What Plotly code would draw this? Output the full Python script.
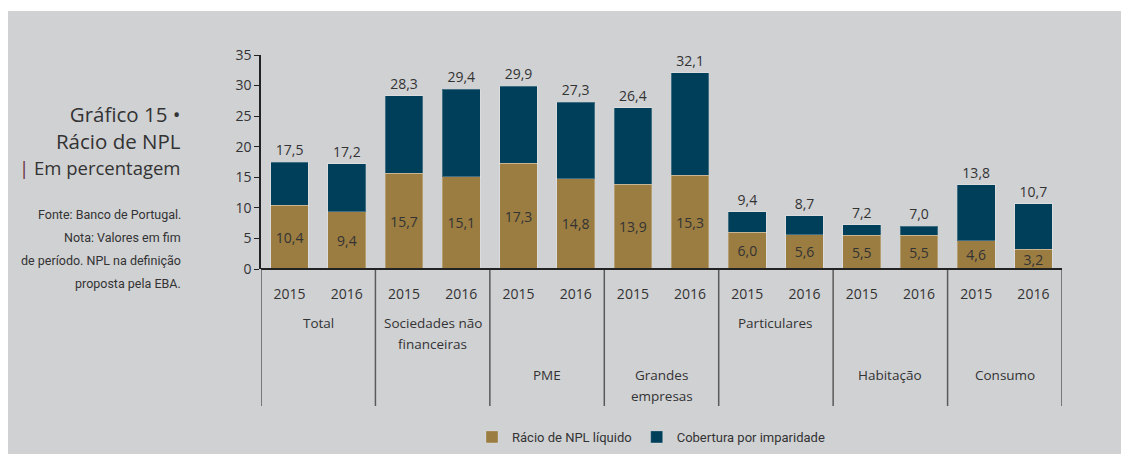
import plotly.graph_objects as go

# ---- data ----
categories = ["Total 2015", "Total 2016", "SNF 2015", "SNF 2016", "PME 2015", "PME 2016",
              "GE 2015", "GE 2016", "Part 2015", "Part 2016", "Hab 2015", "Hab 2016",
              "Cons 2015", "Cons 2016"]
year_labels = ["2015", "2016"] * 7
npl_liquido = [10.4, 9.4, 15.7, 15.1, 17.3, 14.8, 13.9, 15.3, 6.0, 5.6, 5.5, 5.5, 4.6, 3.2]
npl_total = [17.5, 17.2, 28.3, 29.4, 29.9, 27.3, 26.4, 32.1, 9.4, 8.7, 7.2, 7.0, 13.8, 10.7]
cobertura = [round(t - n, 1) for t, n in zip(npl_total, npl_liquido)]

group_lines = [["Total"], ["Sociedades não", "financeiras"], ["PME"], ["Grandes", "empresas"],
               ["Particulares"], ["Habitação"], ["Consumo"]]
group_rows = [1, 1, 2, 2, 1, 2, 2]

title_text = "Gráfico 15 •<br>Rácio de NPL<br><span style='font-size:18.5px'><span style='color:#6b2a3e'>|</span> Em percentagem</span>"
note_lines = ["Fonte: Banco de Portugal.", "Nota: Valores em fim",
              "de período. NPL na definição", "proposta pela EBA."]

y_ticks = [0, 5, 10, 15, 20, 25, 30, 35]

GOLD = "#9b7d42"
NAVY = "#003f5a"
BG = "#d0d1d3"
TXT = "#333333"
FONT = "Open Sans, DejaVu Sans, sans-serif"
NARROW = "Roboto, Liberation Sans, sans-serif"


def fmt(v):
    return f"{v:.1f}".replace(".", ",")


fig = go.Figure()
fig.add_trace(go.Bar(
    x=categories, y=npl_liquido, name="Rácio de NPL líquido",
    marker=dict(color=GOLD, line=dict(color="rgba(255,255,255,0.25)", width=1)),
    text=[fmt(v) for v in npl_liquido], textposition="inside", insidetextanchor="middle",
    constraintext="none",
    textfont=dict(family=FONT, size=14, color=TXT), textangle=0,
    hoverinfo="skip",
))
fig.add_trace(go.Bar(
    x=categories, y=cobertura, name="Cobertura por imparidade",
    marker=dict(color=NAVY, line=dict(color="rgba(255,255,255,0.25)", width=1)),
    text=[fmt(v) for v in npl_total], textposition="outside", constraintext="none",
    textfont=dict(family=FONT, size=14, color=TXT), textangle=0,
    cliponaxis=False, hoverinfo="skip",
))

# page has an 8px body margin: positions below are measured in page pixels
OFF = 8
W, H = 1121, 446
L = 261 - OFF
T = 55 - OFF
RIGHT_EDGE = 1062 - OFF
BOTTOM_EDGE = 269 - OFF
R = W - RIGHT_EDGE
B = H - BOTTOM_EDGE
pw, ph = W - L - R, H - T - B


def px_x(x):
    return (x - OFF - L) / pw


def px_y(y):
    return (BOTTOM_EDGE - (y - OFF)) / ph


shapes = []
# background panel
shapes.append(dict(type="rect", xref="paper", yref="paper",
                   x0=px_x(8), x1=px_x(1140), y0=px_y(11), y1=px_y(470),
                   fillcolor=BG, line=dict(width=0), layer="below"))
# group separators
bounds = [-0.5, 1.5, 3.5, 5.5, 7.5, 9.5, 11.5, 13.5]
for b in bounds:
    shapes.append(dict(type="line", xref="x", yref="paper", x0=b, x1=b,
                       y0=0, y1=px_y(406), line=dict(color="#5a5a5a", width=1.5)))
# baseline
shapes.append(dict(type="line", xref="paper", yref="paper", x0=0, x1=1, y0=0, y1=0,
                   line=dict(color="#222222", width=2)))

annotations = []
row_y = {1: 323, 2: 375}
for i, (lines, row) in enumerate(zip(group_lines, group_rows)):
    xc = 2 * i + 0.5
    for j, line in enumerate(lines):
        annotations.append(dict(text=line, x=xc, xref="x", y=px_y(row_y[row] + 21 * j),
                                yref="paper", showarrow=False, xanchor="center",
                                yanchor="middle", font=dict(family=FONT, size=13.5, color=TXT)))

annotations.append(dict(text=title_text, x=px_x(183), xref="paper", y=px_y(140), yref="paper",
                        showarrow=False, xanchor="right", yanchor="middle", align="right",
                        font=dict(family=FONT, size=20.5, color=TXT)))
for k, line in enumerate(note_lines):
    annotations.append(dict(text=line, x=px_x(183), xref="paper", y=px_y(214 + 23 * k),
                            yref="paper", showarrow=False, xanchor="right", yanchor="middle",
                            font=dict(family=NARROW, size=12.5, color=TXT)))

fig.update_layout(
    width=W, height=H,
    margin=dict(l=L, r=R, t=T, b=B, autoexpand=False),
    paper_bgcolor="white", plot_bgcolor="rgba(0,0,0,0)",
    barmode="stack", bargap=0.34,
    showlegend=True,
    legend=dict(orientation="h", x=px_x(472), y=px_y(437), xanchor="left", yanchor="middle",
                font=dict(family=NARROW, size=13, color=TXT), bgcolor="rgba(0,0,0,0)",
                itemwidth=30, traceorder="normal"),
    shapes=shapes, annotations=annotations,
    xaxis=dict(range=[-0.5, 13.5], tickmode="array", tickvals=categories, ticktext=year_labels,
               showgrid=False, zeroline=False, showline=False, ticks="outside", ticklen=12,
               tickcolor="rgba(0,0,0,0)", tickfont=dict(family=FONT, size=14, color=TXT),
               fixedrange=True),
    yaxis=dict(range=[0, 35], tickvals=y_ticks, showgrid=False, zeroline=False,
               showline=True, linecolor="#222222", linewidth=1.5, ticks="outside", ticklen=5,
               tickcolor="#222222", tickfont=dict(family=FONT, size=14, color=TXT),
               fixedrange=True),
    font=dict(family=FONT, color=TXT),
)

fig.write_html("out.html")
